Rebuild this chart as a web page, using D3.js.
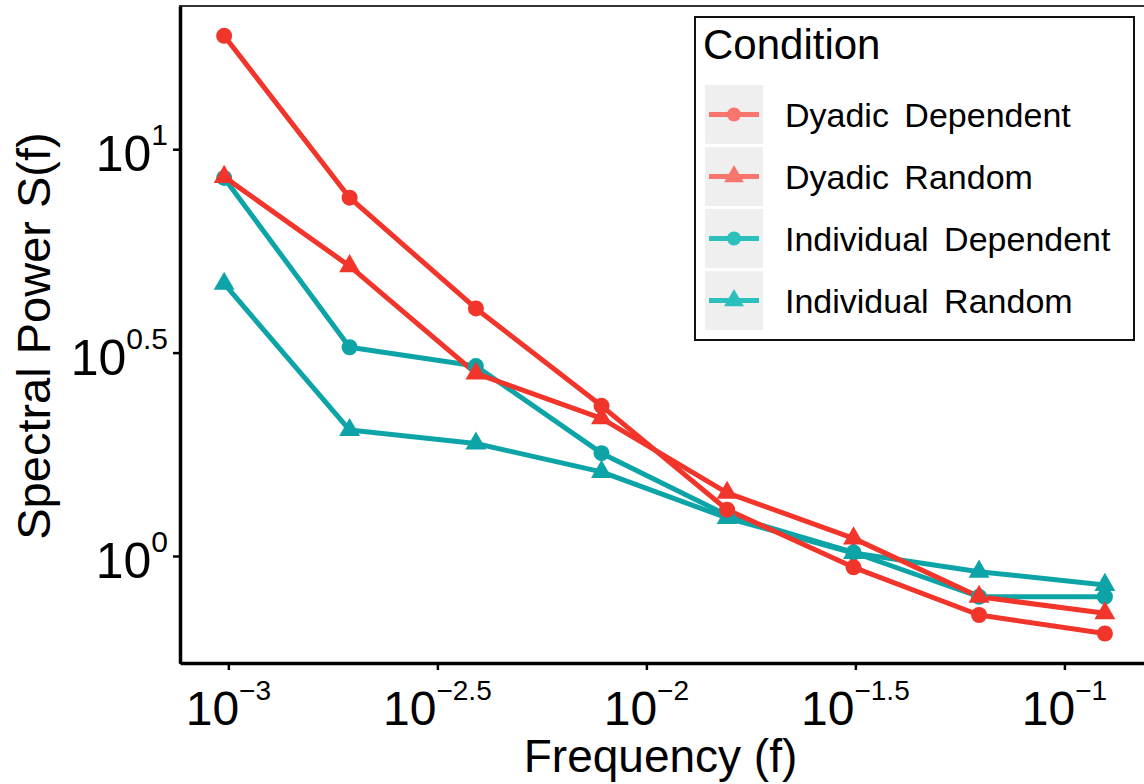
<!DOCTYPE html>
<html lang="en">
<head>
  <meta charset="UTF-8">
  <title>Spectral power by condition</title>
  <script src="https://d3js.org/d3.v7.min.js"></script>
  <style type="text/css">
    body { margin: 0; background: #fff; }
    svg { font-family: "Liberation Sans", Arial, sans-serif; }
    .series-line { fill: none; stroke-width: 5; stroke-linejoin: round; }
    .axis path, .axis line { stroke: #000; }
  </style>
</head>
<body>
<script>

  // frequencies (1/1024 ... 128/1024)
  var frequencies = [0.000977, 0.00195, 0.00391, 0.00781, 0.0156, 0.0313, 0.0625, 0.125];

  // spectral power
  var dyadicDependent     = [19.0, 7.60, 4.06, 2.34, 1.30, 0.938, 0.716, 0.645];
  var dyadicRandom        = [8.55, 5.16, 2.81, 2.18, 1.43, 1.105, 0.794, 0.723];
  var individualDependent = [8.50, 3.26, 2.93, 1.79, 1.26, 1.02, 0.794, 0.794];
  var individualRandom    = [4.67, 2.04, 1.89, 1.61, 1.24, 1.017, 0.915, 0.849];

  var conditionNames = ["Dyadic Dependent", "Dyadic Random", "Individual Dependent", "Individual Random"];

  // tick exponents
  var xTickExponents = ["-3", "-2.5", "-2", "-1.5", "-1"];
  var yTickExponents = ["0", "0.5", "1"];

  var width = 1144, height = 784;
  var plot = {left: 180, right: 1146, top: 6, bottom: 663};

  var series = [
    {name: conditionNames[0], values: dyadicDependent,     color: "#F2352B", key: "#F8766D", shape: "circle"},
    {name: conditionNames[1], values: dyadicRandom,        color: "#F2352B", key: "#F8766D", shape: "triangle"},
    {name: conditionNames[2], values: individualDependent, color: "#0DA4A8", key: "#2CC0BD", shape: "circle"},
    {name: conditionNames[3], values: individualRandom,    color: "#0DA4A8", key: "#2CC0BD", shape: "triangle"}
  ];

  var xScale = d3.scaleLog()
    .domain([Math.pow(10, -3.1157), Math.pow(10, -0.8048)])
    .range([plot.left, plot.right]);

  var yScale = d3.scaleLog()
    .domain([Math.pow(10, -0.263), Math.pow(10, 1.352)])
    .range([plot.bottom, plot.top]);

  var svg = d3.select("body").append("svg")
    .attr("width", width)
    .attr("height", height);

  // panel border (top line, right edge falls outside the picture)
  svg.append("rect")
    .attr("x", plot.left).attr("y", plot.top)
    .attr("width", plot.right - plot.left).attr("height", plot.bottom - plot.top)
    .attr("fill", "none").attr("stroke", "#333").attr("stroke-width", 2);

  // axes
  var xAxis = svg.append("g")
    .attr("class", "axis")
    .attr("transform", "translate(0," + plot.bottom + ")")
    .call(d3.axisBottom(xScale)
      .tickValues(xTickExponents.map(function(e) { return Math.pow(10, +e); }))
      .tickSize(7).tickSizeOuter(0).tickFormat(function() { return ""; }));
  xAxis.select(".domain").attr("stroke-width", 3.5);
  xAxis.selectAll(".tick line").attr("stroke-width", 2.5);

  var yAxis = svg.append("g")
    .attr("class", "axis")
    .attr("transform", "translate(" + plot.left + ",0)")
    .call(d3.axisLeft(yScale)
      .tickValues(yTickExponents.map(function(e) { return Math.pow(10, +e); }))
      .tickSize(7).tickSizeOuter(0).tickFormat(function() { return ""; }));
  yAxis.select(".domain").attr("stroke-width", 3.5);
  yAxis.selectAll(".tick line").attr("stroke-width", 2.5);

  // tick labels as 10^e
  xTickExponents.forEach(function(e) {
    var t = svg.append("text")
      .attr("x", xScale(Math.pow(10, +e)))
      .attr("y", plot.bottom + 62)
      .attr("text-anchor", "middle")
      .attr("font-size", 48);
    t.append("tspan").text("10");
    t.append("tspan").attr("dy", -25).attr("font-size", 28).text(e.replace("-", "\u2212"));
  });

  yTickExponents.forEach(function(e) {
    var t = svg.append("text")
      .attr("x", plot.left - 12)
      .attr("y", yScale(Math.pow(10, +e)) + 22)
      .attr("text-anchor", "end")
      .attr("font-size", 50);
    t.append("tspan").text("10");
    t.append("tspan").attr("dy", -26).attr("font-size", 30).text(e);
  });

  // axis titles
  svg.append("text")
    .attr("x", (plot.left + 1141) / 2)
    .attr("y", 772)
    .attr("text-anchor", "middle")
    .attr("font-size", 46)
    .text("Frequency (f)");

  svg.append("text")
    .attr("transform", "translate(50," + 336 + ") rotate(-90)")
    .attr("text-anchor", "middle")
    .attr("font-size", 47)
    .text("Spectral Power S(f)");

  // lines: teal first, red on top
  var line = d3.line()
    .x(function(d, i) { return xScale(frequencies[i]); })
    .y(function(d) { return yScale(d); });

  var drawOrder = [series[2], series[3], series[0], series[1]];

  svg.selectAll(".series-line")
    .data(drawOrder)
    .enter().append("path")
    .attr("class", "series-line")
    .attr("stroke", function(s) { return s.color; })
    .attr("d", function(s) { return line(s.values); });

  var triangle = d3.symbol().type(d3.symbolTriangle).size(190);
  var triangleKey = d3.symbol().type(d3.symbolTriangle).size(170);

  drawOrder.forEach(function(s) {
    var g = svg.append("g").attr("fill", s.color);
    if (s.shape === "circle") {
      g.selectAll("circle")
        .data(s.values)
        .enter().append("circle")
        .attr("cx", function(d, i) { return xScale(frequencies[i]); })
        .attr("cy", function(d) { return yScale(d); })
        .attr("r", 8);
    } else {
      g.selectAll("path")
        .data(s.values)
        .enter().append("path")
        .attr("d", triangle)
        .attr("transform", function(d, i) {
          return "translate(" + xScale(frequencies[i]) + "," + yScale(d) + ")";
        });
    }
  });

  // legend
  var legend = svg.append("g");
  legend.append("rect")
    .attr("x", 695).attr("y", 17)
    .attr("width", 439).attr("height", 323)
    .attr("fill", "#fff").attr("stroke", "#111").attr("stroke-width", 2);

  legend.append("text")
    .attr("x", 703).attr("y", 59)
    .attr("font-size", 42)
    .text("Condition");

  var rowY = d3.scaleBand()
    .domain(conditionNames)
    .range([85, 330])
    .paddingInner(0.05);

  series.forEach(function(s) {
    var y0 = rowY(s.name), cy = y0 + rowY.bandwidth() / 2;
    legend.append("rect")
      .attr("x", 705).attr("y", y0)
      .attr("width", 58).attr("height", rowY.bandwidth())
      .attr("fill", "#EFEFEF");
    legend.append("line")
      .attr("x1", 709).attr("x2", 759)
      .attr("y1", cy).attr("y2", cy)
      .attr("stroke", s.key).attr("stroke-width", 5);
    if (s.shape === "circle") {
      legend.append("circle").attr("cx", 734).attr("cy", cy).attr("r", 7).attr("fill", s.key);
    } else {
      legend.append("path").attr("d", triangleKey)
        .attr("transform", "translate(734," + cy + ")").attr("fill", s.key);
    }
    legend.append("text")
      .attr("x", 785).attr("y", cy + 12.5)
      .attr("font-size", 34)
      .attr("word-spacing", 6)
      .text(s.name);
  });

</script>
</body>
</html>
